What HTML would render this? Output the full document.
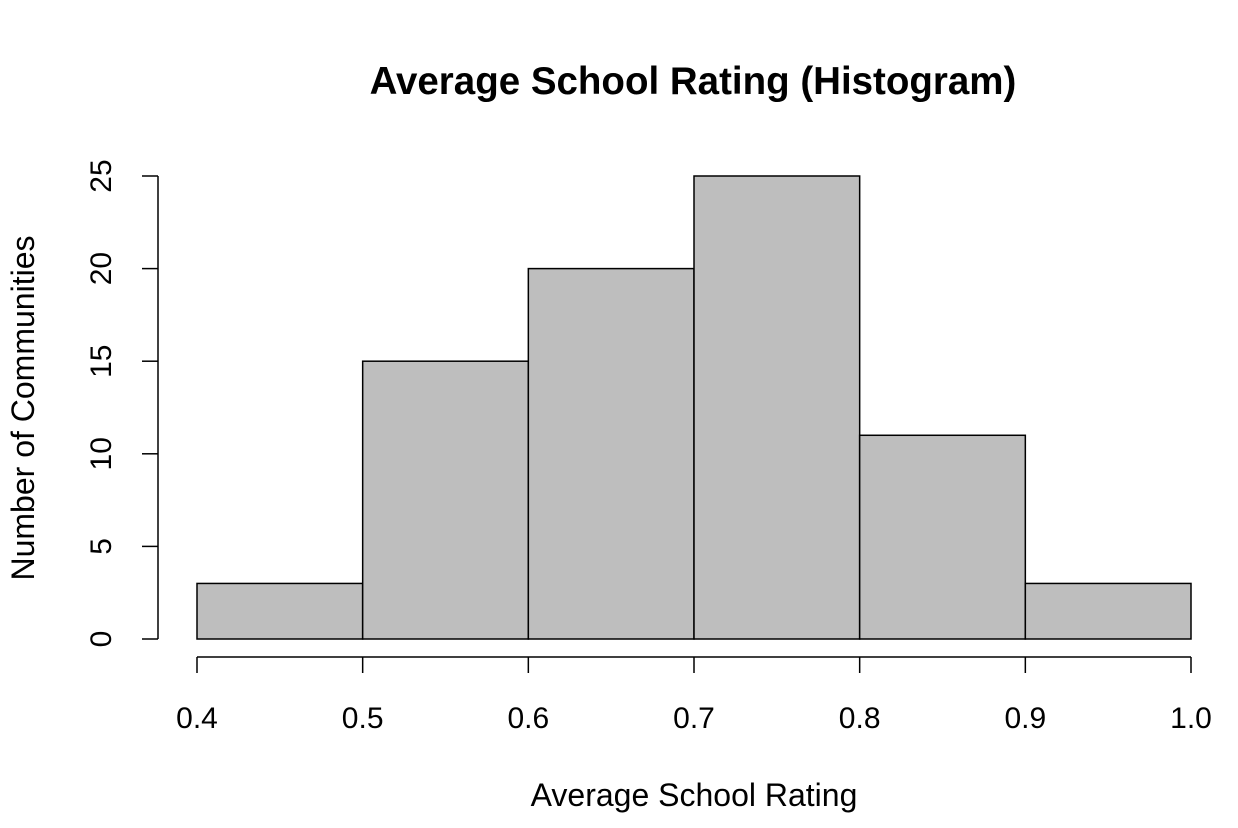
<!DOCTYPE html>
<html><head><meta charset="utf-8"><style>
html,body{margin:0;padding:0;background:#fff;}
svg{display:block;font-family:"Liberation Sans",Arial,sans-serif;}
</style></head><body>
<svg id="chart" width="1238" height="828">
<text x="693" y="94" text-anchor="middle" font-size="38.5" font-weight="bold">Average School Rating (Histogram)</text>
<text x="694" y="806" text-anchor="middle" font-size="32">Average School Rating</text>
<text transform="translate(34,408) rotate(-90)" text-anchor="middle" font-size="32">Number of Communities</text>
<g id="bars"></g><g id="xaxis"></g><g id="yaxis"></g>
</svg>
<script>
const binStarts=[0.4,0.5,0.6,0.7,0.8,0.9];
const counts=[3,15,20,25,11,3];
const xTicks=[0.4,0.5,0.6,0.7,0.8,0.9,1.0];
const yTicks=[0,5,10,15,20,25];
const binWidth=0.1;
const NS="http://www.w3.org/2000/svg";
function xs(v){return 197+(v-0.4)/0.6*994;}
function ys(v){return 639-v/25*463;}
function mk(t,a,p){const e=document.createElementNS(NS,t);for(const k in a)e.setAttribute(k,a[k]);p.appendChild(e);return e;}
const bars=document.getElementById('bars');
binStarts.forEach((b,i)=>{
 const r=mk('rect',{x:xs(b),y:ys(counts[i]),width:xs(b+binWidth)-xs(b),height:ys(0)-ys(counts[i]),fill:'#bebebe',stroke:'#000','stroke-width':1.5},bars);
 
 
});
const xa=document.getElementById('xaxis');


mk('line',{x1:xs(xTicks[0]),x2:xs(xTicks[xTicks.length-1]),y1:657,y2:657,stroke:'#000','stroke-width':1.5},xa);
xTicks.forEach(t=>{
 mk('line',{x1:xs(t),x2:xs(t),y1:657,y2:673,stroke:'#000','stroke-width':1.5},xa);
 const tx=mk('text',{x:xs(t),y:728,'text-anchor':'middle','font-size':30},xa);
 tx.textContent=t.toFixed(1);
 
 
});
const ya=document.getElementById('yaxis');


mk('line',{x1:158,x2:158,y1:ys(yTicks[yTicks.length-1]),y2:ys(0),stroke:'#000','stroke-width':1.5},ya);
yTicks.forEach(t=>{
 mk('line',{x1:142,x2:158,y1:ys(t),y2:ys(t),stroke:'#000','stroke-width':1.5},ya);
 const tx=mk('text',{transform:`translate(111,${ys(t)}) rotate(-90)`,'text-anchor':'middle','font-size':30},ya);
 tx.textContent=t;
 
 
});
</script>
</body></html>
